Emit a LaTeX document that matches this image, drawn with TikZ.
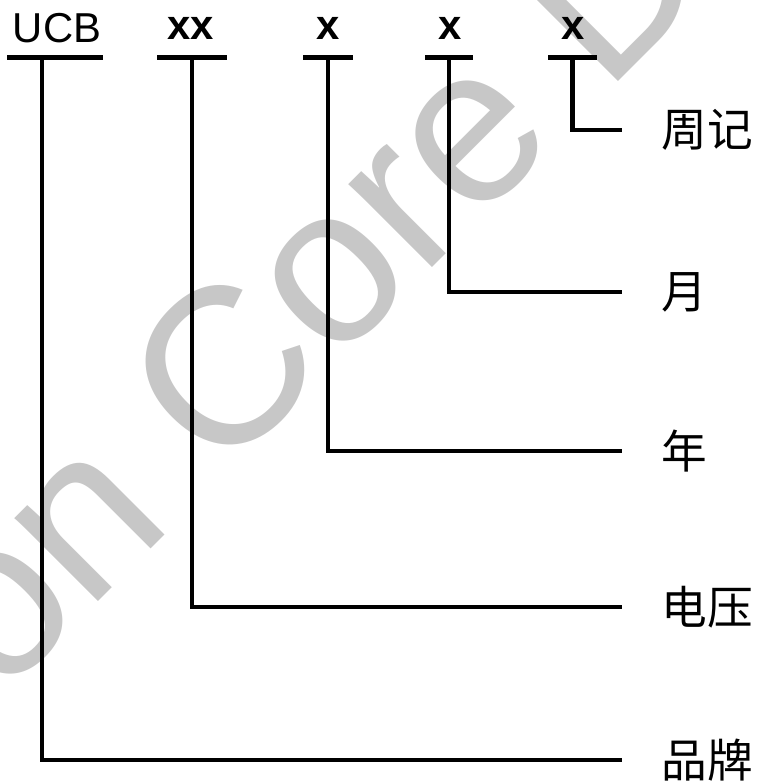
\documentclass[tikz,border=0pt]{standalone}
\usepackage{fontspec}
\setmainfont{Liberation Sans}
\newfontfamily\cjk{Noto Sans CJK SC}
\definecolor{wmgray}{RGB}{199,199,199}
\tikzset{
	code/.style={font=\fontsize{23.8}{28}\selectfont, anchor=base, inner sep=0pt},
	tick/.style={fill=black, inner sep=0pt, minimum height=0.1cm},
	part/.style={font=\cjk\fontsize{26}{30}\selectfont, anchor=west, inner sep=0pt},
	lead/.style={line width=2.8pt, shorten >=0.78cm},
	wm/.style={font=\fontsize{127}{130}\selectfont, text=wmgray, inner sep=0pt}
}
\begin{document}
\begin{tikzpicture}[x=0.02cm, y=-0.02cm, line join=miter]
	\useasboundingbox (0,0) rectangle (757,784);
	\begin{scope}
		\clip (0,0) rectangle (757,784);
		\node[wm, rotate=45, anchor=base west] (mark) at (0,700) {on Core D};
	\end{scope}
	% code letters
	\node[code] (brandcode) at (57,43) {UCB};
	\node[code] (voltcode) at (190.5,39.5) {\textbf{xx}};
	\node[code] (yearcode) at (328,39.5) {\textbf{x}};
	\node[code] (monthcode) at (450,39.5) {\textbf{x}};
	\node[code] (weekcode) at (573,39.5) {\textbf{x}};
	% bars under them
	\node[tick, minimum width=1.92cm] (brandbar) at (55,58) {};
	\node[tick, minimum width=1.4cm] (voltbar) at (192,58) {};
	\node[tick, minimum width=1cm] (yearbar) at (328,58) {};
	\node[tick, minimum width=0.96cm] (monthbar) at (449,58) {};
	\node[tick, minimum width=0.98cm] (weekbar) at (572.5,58) {};
	% meanings
	\node[part] (week) at (661,130) {周记};
	\node[part] (month) at (661,292) {月};
	\node[part] (year) at (661,451) {年};
	\node[part] (volt) at (661,607) {电压};
	\node[part] (brand) at (661,760) {品牌};
	% leads
	\draw[lead] ([xshift=-0.26cm]brandbar.center) |- (brand.west);
	\draw[lead] (voltbar.center) |- (volt.west);
	\draw[lead] (yearbar.center) |- (year.west);
	\draw[lead] (monthbar.center) |- (month.west);
	\draw[lead] (weekbar.center) |- (week.west);
\end{tikzpicture}
\end{document}
